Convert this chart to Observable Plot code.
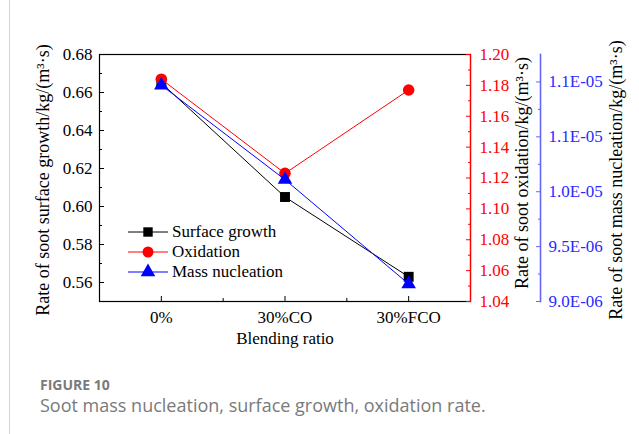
<!DOCTYPE html>
<html><head><meta charset="utf-8">
<script src="https://cdn.jsdelivr.net/npm/d3@7"></script>
<script src="https://cdn.jsdelivr.net/npm/@observablehq/plot@0.6"></script>
<style>
body{margin:0;background:#fff;}
#wrap{position:relative;width:639px;height:434px;overflow:hidden;background:#fff;}
#border{position:absolute;left:9px;top:0;width:1px;height:434px;background:#d4d4d4;}
#legend{position:absolute;left:128px;top:222px;font-family:"Liberation Serif","Times New Roman",serif;font-size:17px;color:#000;}
#legend .row{position:absolute;left:0;height:20px;white-space:nowrap;}
#legend svg{position:absolute;left:0;top:0;}
#legend span{position:absolute;left:44px;top:0;line-height:20px;}
#fig{position:absolute;left:40px;top:377px;line-height:16px;font-family:"Open Sans",sans-serif;font-size:14px;font-weight:700;color:#7a7a7a;}
#cap{position:absolute;left:40px;top:394px;line-height:22px;font-family:"Open Sans",sans-serif;font-size:18px;color:#7a7a7a;}
</style></head><body>
<div id="wrap"><div id="border"></div></div>
<script>
const categories = ["0%", "30%CO", "30%FCO"];
const surfaceGrowth = [0.665, 0.605, 0.563];
const oxidation = [1.184, 1.123, 1.177];
const massNucleation = [1.097e-5, 1.011e-5, 9.16e-6];
const leftTicks = [0.56, 0.58, 0.60, 0.62, 0.64, 0.66, 0.68];
const leftMinor = [0.55, 0.57, 0.59, 0.61, 0.63, 0.65, 0.67];
const redTicks = [1.04, 1.06, 1.08, 1.10, 1.12, 1.14, 1.16, 1.18, 1.20];
const redMinor = [1.05, 1.07, 1.09, 1.11, 1.13, 1.15, 1.17, 1.19];
const blueTicks = [9.0e-6, 9.5e-6, 1.0e-5, 1.05e-5, 1.1e-5];
const blueTickLabels = ["9.0E-06", "9.5E-06", "1.0E-05", "1.1E-05", "1.1E-05"];
const blueMinor = [9.25e-6, 9.75e-6, 1.025e-5, 1.075e-5];
const xMinor = [0.5, 1.5];
const seriesNames = ["Surface growth", "Oxidation", "Mass nucleation"];
const xLabel = "Blending ratio";
const leftLabel = "Rate of soot surface growth/kg/(m³·s)";
const redLabel = "Rate of soot oxidation/kg/(m³·s)";
const blueLabel = "Rate of soot mass nucleation/kg/(m³·s)";

const RED = "#ff0000", BLUE = "#0000ff", BLUE_AX = "#6464ff", BLUE_TX = "#2a2aff";
const idx = categories.map((_, i) => i);
const W = 639, H = 360;
const serif = "'Liberation Serif','Times New Roman',serif";
const base = {
  width: W, height: H, marginLeft: 99, marginRight: 169, marginTop: 54, marginBottom: 59,
  style: {fontFamily: serif, fontSize: "17px", background: "transparent", position: "absolute", left: "0px", top: "0px", overflow: "visible", color: "black"}
};
const xDom = [-0.5, 2.5];

const plotA = Plot.plot({
  ...base,
  x: {type: "linear", domain: xDom},
  y: {domain: [0.55, 0.68]},
  marks: [
    Plot.frame({stroke: "black", strokeWidth: 1.2}),
    Plot.axisY({ticks: leftTicks, tickSize: -5, tickPadding: 12, tickFormat: d3.format(".2f"), label: null}),
    Plot.axisY({ticks: leftMinor, tickSize: -3, fill: "none", label: null}),
    Plot.axisX({ticks: idx, tickSize: -5, tickPadding: 14, tickFormat: i => categories[i], label: null}),
    Plot.axisX({ticks: xMinor, tickSize: -3, fill: "none", label: null}),
    Plot.text([xLabel], {text: d => d, frameAnchor: "bottom", textAnchor: "middle", dy: 42, fontSize: 17}),
    Plot.text([leftLabel], {text: d => d, frameAnchor: "left", textAnchor: "middle", lineAnchor: "middle", rotate: -90, dx: -56, dy: 2, fontSize: 18}),
    Plot.line(idx, {x: i => i, y: i => surfaceGrowth[i], stroke: "black", strokeWidth: 1}),
    Plot.dot(idx, {x: i => i, y: i => surfaceGrowth[i], symbol: "square", fill: "black", r: 5.6})
  ]
});

const plotB = Plot.plot({
  ...base,
  x: {type: "linear", domain: xDom, axis: null},
  y: {domain: [1.04, 1.20]},
  marks: [
    Plot.frame({anchor: "right", stroke: RED, strokeWidth: 1.2}),
    Plot.axisY({anchor: "right", ticks: redTicks, tickSize: -5, tickPadding: 14, tickFormat: d3.format(".2f"), color: RED, label: null}),
    Plot.axisY({anchor: "right", ticks: redMinor, tickSize: -3, stroke: RED, fill: "none", label: null}),
    Plot.text([redLabel], {text: d => d, frameAnchor: "right", textAnchor: "middle", lineAnchor: "middle", rotate: -90, dx: 52, dy: -5, fontSize: 18}),
    Plot.line(idx, {x: i => i, y: i => oxidation[i], stroke: RED, strokeWidth: 1}),
    Plot.dot(idx, {x: i => i, y: i => oxidation[i], symbol: "circle", fill: RED, r: 5.8})
  ]
});

const plotC = Plot.plot({
  ...base,
  x: {type: "linear", domain: xDom, axis: null},
  y: {domain: [9.0e-6, 1.125e-5]},
  marks: [
    Plot.frame({anchor: "right", dx: 70, stroke: BLUE_AX, strokeWidth: 1.6}),
    Plot.axisY({anchor: "right", dx: 70, ticks: blueTicks, tickSize: -5, tickPadding: 13, stroke: BLUE_AX, fill: BLUE_TX, tickFormat: d => blueTickLabels[blueTicks.indexOf(d)], label: null}),
    Plot.axisY({anchor: "right", dx: 70, ticks: blueMinor, tickSize: -3, stroke: BLUE_AX, fill: "none", label: null}),
    Plot.text([blueLabel], {text: d => d, frameAnchor: "right", textAnchor: "middle", lineAnchor: "middle", rotate: -90, dx: 146, dy: 2, fontSize: 18}),
    Plot.line(idx, {x: i => i, y: i => massNucleation[i], stroke: BLUE, strokeWidth: 1}),
    Plot.dot(idx, {x: i => i, y: i => massNucleation[i], symbol: "triangle", fill: BLUE, r: 5.4})
  ]
});

const wrap = document.getElementById("wrap");
wrap.append(plotA, plotB, plotC);

// legend
const legend = document.createElement("div");
legend.id = "legend";
const legendColors = ["black", RED, BLUE];
const legendSymbols = ["square", "circle", "triangle"];
seriesNames.forEach((name, i) => {
  const row = document.createElement("div");
  row.className = "row";
  row.style.top = (i * 20) + "px";
  const sym = legendSymbols[i] === "square" ? d3.symbolSquare : legendSymbols[i] === "circle" ? d3.symbolCircle : d3.symbolTriangle;
  const r = legendSymbols[i] === "square" ? 5.3 : legendSymbols[i] === "circle" ? 5.5 : 5.4;
  const path = d3.symbol(sym, Math.PI * r * r)();
  row.innerHTML = `<svg width="42" height="20"><line x1="0" x2="40" y1="10" y2="10" stroke="${legendColors[i]}" stroke-width="1"/><path transform="translate(20,10)" d="${path}" fill="${legendColors[i]}"/></svg><span>${name}</span>`;
  legend.appendChild(row);
});
wrap.appendChild(legend);

const fig = document.createElement("div");
fig.id = "fig"; fig.textContent = "FIGURE 10";
const cap = document.createElement("div");
cap.id = "cap"; cap.textContent = "Soot mass nucleation, surface growth, oxidation rate.";
wrap.append(fig, cap);
</script>
</body></html>
